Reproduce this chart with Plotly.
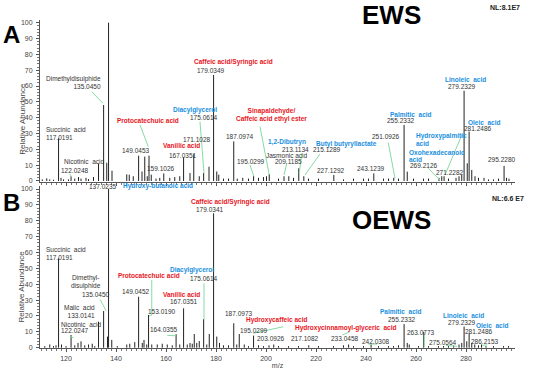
import plotly.graph_objects as go

# ---------------- data ----------------
# Panel A (EWS) peaks: m/z and relative abundance
ews_mz = [110.5, 112.3, 113.5, 115.0, 117.0191, 118.0, 119.0, 121.0, 122.0248, 123.5, 125.0, 126.0,
          128.0, 129.0, 131.0, 133.01, 135.045, 136.3, 137.0235, 138.4, 144.3, 145.3, 146.9,
          149.0453, 150.4, 151.5, 152.5, 153.2, 154.1, 156.0, 157.5, 159.1026, 161.5, 163.5, 165.5,
          167.0351, 169.6, 171.1028, 173.3, 175.0614, 177.2, 179.0349, 180.3, 181.1, 183.0, 185.0,
          187.0974, 188.5, 190.7, 193.0, 195.0299, 197.0, 199.0, 200.2, 201.3, 205.0, 207.2,
          209.1185, 211.0, 213.1134, 215.1289, 217.0, 221.0, 227.1292, 231.0, 235.0, 239.0, 241.0,
          243.1239, 247.0, 249.0, 251.0926, 253.0, 255.2332, 256.5, 259.0, 263.0, 265.0, 269.2126,
          270.3, 271.2282, 273.0, 276.0, 277.2, 278.3, 279.2329, 280.5, 281.2486, 282.3, 283.6,
          285.0, 287.2, 289.0, 291.0, 293.0, 295.228, 296.2, 297.2]
ews_ab = [1, 1.7, 1, 0.8, 27, 2, 1, 1, 3, 1.5, 2.5, 1.5,
          2, 1.2, 2.5, 11, 48, 11.5, 100, 6.5, 4.2, 4, 3,
          16, 6, 15.4, 3, 16, 4, 1.5, 2, 4.8, 2, 2.5, 3,
          15, 5, 17, 3, 5, 9, 67, 6, 4, 1.5, 1.5,
          25, 1.5, 2, 1.5, 3.2, 2, 2.5, 3, 4.4, 1.5, 3,
          3, 2, 8, 3, 1.5, 1.5, 3.8, 1, 1.5, 1.5, 1.5,
          4.8, 1.5, 1.5, 2, 1.5, 35.4, 5.9, 1.5, 1.5, 1.5, 2,
          3, 3, 1.5, 2, 3, 4, 57, 11.2, 31.2, 7, 3,
          2, 2, 1, 1, 1.5, 9.5, 2, 1.5]

# Panel B (OEWS) peaks
oews_mz = [111.5, 113.5, 115.0, 116.0, 117.0191, 118.2, 120.0, 122.0247, 123.5, 124.8, 126.0, 127.5,
           129.0, 130.5, 131.5, 133.0141, 135.045, 136.6, 137.0235, 138.3, 140.5, 144.3, 145.5,
           147.5, 149.0452, 150.5, 151.2, 152.3, 153.019, 154.3, 156.5, 158.5, 160.5, 162.5,
           164.0355, 165.5, 167.0351, 168.5, 169.6, 170.5, 171.3, 172.3, 173.3, 175.0614, 176.3,
           177.3, 179.0341, 180.3, 181.4, 183.0, 185.0, 187.0973, 188.3, 189.3, 191.3, 193.0,
           195.0299, 197.0, 199.0, 201.2, 203.0926, 205.0, 209.0, 213.0, 217.1082, 221.0, 227.0,
           231.0, 233.0458, 235.0, 239.0, 242.0308, 245.0, 249.0, 251.0, 253.0, 255.2332, 256.5,
           257.3, 261.0, 263.0773, 265.0, 269.0, 271.0, 273.0, 275.0564, 277.2, 278.3, 279.2329,
           280.3, 281.2486, 282.3, 283.5, 285.0, 286.2153, 288.0, 291.0, 295.0, 297.0]
oews_ab = [1, 2, 1, 1.5, 56.3, 2, 1, 8, 1.5, 3, 4, 1.5,
           2, 2.5, 1, 16.4, 23.1, 7, 100, 4.9, 1, 2, 2.5,
           3.5, 32.1, 3, 4.9, 2, 20.6, 2, 2, 2.5, 2, 1.5,
           8.5, 2, 24.8, 2, 3, 2.5, 8.6, 3, 4.2, 18, 2,
           8.6, 84.7, 7, 3, 1.5, 1.5, 15.4, 2, 8.6, 2, 1,
           7.6, 1.5, 1, 1.5, 2, 1, 1, 1, 1.5, 1, 1,
           1.5, 2, 1, 1, 2, 1, 1, 1, 1.5, 14.9, 3,
           2, 1, 10, 1, 1, 1, 1, 1.5, 2, 3, 13.3,
           4, 9, 3, 2, 1.5, 2, 1, 1, 1, 1]

x_ticks = [120, 140, 160, 180, 200, 220, 240, 260, 280]
y_ticks = [0, 10, 20, 30, 40, 50, 60, 70, 80, 90, 100]

RED = "#e8141c"
BLUE = "#1a8fe0"
DARK = "#333333"
GREEN = "#86dca2"

# annotations: (panel, text, mz, abundance, xanchor, color, bold)
labels = [
    ("A", "137.0235", 140.8, 103.3, "right", DARK, False),
    ("A", "Hydroxy-butanoic acid", 142.3, 103.3, "left", BLUE, True),
    ("A", "Dimethyldisulphide<br>135.0450", 134.6, 62.1, "right", DARK, False),
    ("A", "Succinic  acid<br>117.0191", 111.0, 30.3, "left", DARK, False),
    ("A", "Nicotinic  acid", 118.4, 12.2, "left", DARK, False),
    ("A", "122.0248", 117.3, 6.9, "left", DARK, False),
    ("A", "Protocatechuic acid", 152.9, 38.1, "center", RED, True),
    ("A", "149.0453", 147.9, 19.1, "center", DARK, False),
    ("A", "159.1026", 157.9, 7.6, "center", DARK, False),
    ("A", "Vanillic acid", 166.0, 22.3, "center", RED, True),
    ("A", "167.0351", 166.6, 16.4, "center", DARK, False),
    ("A", "171.1028", 172.1, 25.9, "center", DARK, False),
    ("A", "Diacylglycerol", 171.5, 44.9, "center", BLUE, True),
    ("A", "175.0614", 174.8, 40.2, "center", DARK, False),
    ("A", "Caffeic acid/Syringic acid", 186.9, 75.0, "center", RED, True),
    ("A", "179.0349", 177.7, 70.1, "center", DARK, False),
    ("A", "187.0974", 189.3, 28.0, "center", DARK, False),
    ("A", "195.0299", 193.7, 12.2, "center", DARK, False),
    ("A", "Sinapaldehyde/<br>Caffeic acid ethyl ester", 202.0, 41.9, "center", RED, True),
    ("A", "1,2-Dibutryn", 208.4, 24.8, "center", BLUE, True),
    ("A", "213.1134", 211.9, 20.0, "center", DARK, False),
    ("A", "Jasmonic acid", 208.5, 16.0, "center", DARK, False),
    ("A", "209.1185", 209.1, 12.6, "center", DARK, False),
    ("A", "Butyl butyryllactate", 232.3, 23.3, "center", BLUE, True),
    ("A", "215.1289", 224.3, 19.6, "center", DARK, False),
    ("A", "227.1292", 225.9, 6.5, "center", DARK, False),
    ("A", "243.1239", 241.7, 7.6, "center", DARK, False),
    ("A", "251.0926", 247.9, 27.8, "center", DARK, False),
    ("A", "Palmitic  acid", 257.9, 42.1, "center", BLUE, True),
    ("A", "255.2332", 253.7, 38.1, "center", DARK, False),
    ("A", "Hydroxypalmitic", 259.3, 28.6, "left", BLUE, True),
    ("A", "acid", 259.3, 23.6, "left", BLUE, True),
    ("A", "Oxohexadecanoic", 256.5, 18.3, "left", BLUE, True),
    ("A", "acid", 256.5, 13.5, "left", BLUE, True),
    ("A", "269.2126", 262.9, 9.5, "center", DARK, False),
    ("A", "271.2282", 273.5, 5.2, "center", DARK, False),
    ("A", "Linoleic  acid", 279.7, 64.2, "center", BLUE, True),
    ("A", "279.2329", 278.0, 60.0, "center", DARK, False),
    ("A", "Oleic  acid", 287.3, 37.1, "center", BLUE, True),
    ("A", "281.2486", 284.5, 33.3, "center", DARK, False),
    ("A", "Hydroxylinoleic acid", 300.9, 17.9, "center", BLUE, True),
    ("A", "295.2280", 294.0, 13.3, "center", DARK, False),

    ("B", "137.0235", 140.9, 101.9, "right", DARK, False),
    ("B", "Hydroxy-butanoic acid", 141.9, 101.9, "left", BLUE, True),
    ("B", "Succinic  acid<br>117.0191", 111.0, 59.5, "left", DARK, False),
    ("B", "Dimethyl-<br>disulphide", 128.0, 41.4, "center", DARK, False),
    ("B", "135.0450", 131.9, 33.8, "center", DARK, False),
    ("B", "Malic  acid<br>133.0141", 132.4, 22.7, "right", DARK, False),
    ("B", "Nicotinic  acid", 117.3, 14.9, "left", DARK, False),
    ("B", "122.0247", 117.3, 10.7, "left", DARK, False),
    ("B", "Protocatechuic acid", 153.2, 45.4, "center", RED, True),
    ("B", "149.0452", 147.9, 35.3, "center", DARK, False),
    ("B", "153.0190", 158.0, 22.7, "center", DARK, False),
    ("B", "164.0355", 158.9, 11.2, "center", DARK, False),
    ("B", "Vanillic acid", 166.0, 33.8, "center", RED, True),
    ("B", "167.0351", 167.1, 29.0, "center", DARK, False),
    ("B", "Diacylglycerol", 170.3, 49.0, "center", BLUE, True),
    ("B", "175.0614", 175.1, 43.7, "center", DARK, False),
    ("B", "Caffeic acid/Syringic acid", 185.6, 91.6, "center", RED, True),
    ("B", "179.0341", 177.5, 86.8, "center", DARK, False),
    ("B", "187.0973", 188.9, 21.8, "center", DARK, False),
    ("B", "Hydroxycaffeic acid", 204.0, 17.3, "center", RED, True),
    ("B", "195.0299", 194.8, 10.7, "center", DARK, False),
    ("B", "203.0926", 201.7, 5.5, "center", DARK, False),
    ("B", "217.1082", 215.2, 5.5, "center", DARK, False),
    ("B", "Hydroxycinnamoyl-glyceric  acid", 231.9, 12.2, "center", RED, True),
    ("B", "233.0458", 231.2, 5.5, "center", DARK, False),
    ("B", "242.0308", 243.6, 4.2, "center", DARK, False),
    ("B", "Palmitic  acid", 253.9, 22.7, "center", BLUE, True),
    ("B", "255.2332", 254.1, 17.9, "center", DARK, False),
    ("B", "263.0773", 261.9, 9.5, "center", DARK, False),
    ("B", "275.0564", 270.5, 3.2, "center", DARK, False),
    ("B", "Linoleic  acid", 278.9, 20.6, "center", BLUE, True),
    ("B", "279.2329", 278.0, 15.8, "center", DARK, False),
    ("B", "Oleic  acid", 290.7, 14.3, "center", BLUE, True),
    ("B", "281.2486", 285.1, 10.5, "center", DARK, False),
    ("B", "286.2153", 287.3, 3.8, "center", DARK, False),
]

# leader lines: (panel, mz0, ab0, mz1, ab1)
leaders = [
    ("A", 130.3, 56.4, 134.7, 49.2),
    ("A", 121.5, 4.5, 122.3, 2.5),
    ("A", 149.6, 35.4, 152.9, 21.7),
    ("A", 173.6, 37.5, 175.2, 4.9),
    ("A", 193.6, 10.1, 195.2, 2.7),
    ("A", 197.6, 34.3, 201.3, 3.8),
    ("A", 214.3, 17.5, 213.3, 4.9),
    ("A", 208.3, 11.2, 207.2, 3.8),
    ("A", 221.6, 17.1, 215.6, 3.8),
    ("A", 248.9, 24.2, 251.6, 1.7),
    ("A", 278.3, 29.0, 271.6, 3.8),
    ("A", 264.9, 8.0, 269.6, 0.6),
    ("B", 133.6, 30.5, 136.0, 23.3),
    ("B", 121.5, 7.0, 123.0, 6.3),
    ("B", 154.3, 42.7, 154.3, 20.6),
    ("B", 154.3, 20.6, 153.2, 20.0),
    ("B", 160.5, 7.8, 164.0, 7.5),
    ("B", 175.2, 40.6, 175.2, 17.9),
    ("B", 194.9, 9.1, 206.9, 13.2),
    ("B", 230.5, 8.0, 233.5, 10.0),
    ("B", 241.0, 2.3, 244.5, 2.3),
    ("B", 263.3, 8.6, 263.3, 0.6),
    ("B", 272.0, 1.5, 276.5, 0.8),
    ("B", 286.5, 1.5, 288.5, 1.8),
]

# ---------------- figure ----------------
def stems(mz, ab):
    xs, ys = [], []
    for m, a in zip(mz, ab):
        xs += [m, m, None]
        ys += [0, a, None]
    return xs, ys

fig = go.Figure()
xa, ya = stems(ews_mz, ews_ab)
xb, yb = stems(oews_mz, oews_ab)
fig.add_trace(go.Scatter(x=xa, y=ya, mode="lines", line=dict(color="#222222", width=1),
                         xaxis="x", yaxis="y", hoverinfo="skip", showlegend=False))
fig.add_trace(go.Scatter(x=xb, y=yb, mode="lines", line=dict(color="#222222", width=1),
                         xaxis="x2", yaxis="y2", hoverinfo="skip", showlegend=False))

FONT = "Arial, Liberation Sans, sans-serif"
XR = [109.6, 299.6]
common_x = dict(range=XR, showgrid=False, zeroline=False, showline=True, linecolor="#555555",
                linewidth=1, ticks="outside", ticklen=3, tickcolor="#555555", tickvals=x_ticks,
                automargin=False,
                minor=dict(dtick=2, tick0=0, ticklen=2, ticks="outside", tickcolor="#777777"),
                tickfont=dict(size=7, color="#444444", family=FONT))
common_y = dict(showgrid=False, zeroline=False, showline=True, linecolor="#555555", linewidth=1,
                ticks="outside", ticklen=3, tickcolor="#555555", tickvals=y_ticks,
                automargin=False, ticklabelstandoff=2,
                minor=dict(dtick=2, tick0=0, ticklen=2, ticks="outside", tickcolor="#777777"),
                tickfont=dict(size=7, color="#444444", family=FONT))

fig.update_layout(
    width=550, height=369, paper_bgcolor="white", plot_bgcolor="white",
    margin=dict(l=40, r=35, t=0, b=0),
    font=dict(family=FONT),
    xaxis=dict(common_x, anchor="y", domain=[0, 1], showticklabels=False),
    yaxis=dict(common_y, anchor="x", domain=[0.5068, 0.9458], range=[-0.63, 101.7]),
    xaxis2=dict(common_x, anchor="y2", domain=[0, 1],
                title=dict(text="m/z", font=dict(size=7, color="#444444", family=FONT), standoff=2)),
    yaxis2=dict(common_y, anchor="x2", domain=[0.0556, 0.4959], range=[-0.5, 101.9]),
)

anns = []
for panel, text, m, a, xa_, col, bold in labels:
    t = f"<b>{text}</b>" if bold else text
    anns.append(dict(text=t, x=m, y=a, xref="x" if panel == "A" else "x2",
                     yref="y" if panel == "A" else "y2", xanchor=xa_, yanchor="middle",
                     align=xa_ if xa_ != "center" else "center", showarrow=False,
                     font=dict(size=6.5, color=col, family=FONT)))
# axis titles, panel letters and titles (paper x is relative to the plotting area)
anns += [
    dict(text="Relative Abundance", x=-0.0385, y=0.6775, xref="paper", yref="paper", textangle=-90,
         xanchor="center", yanchor="middle", showarrow=False,
         font=dict(size=8, color="#444444", family=FONT)),
    dict(text="Relative Abundance", x=-0.0385, y=0.223, xref="paper", yref="paper", textangle=-90,
         xanchor="center", yanchor="middle", showarrow=False,
         font=dict(size=8, color="#444444", family=FONT)),
    dict(text="<b>A</b>", x=-0.083, y=0.907, xref="paper", yref="paper", xanchor="left",
         yanchor="middle", showarrow=False, font=dict(size=24, color="black", family=FONT)),
    dict(text="<b>B</b>", x=-0.083, y=0.452, xref="paper", yref="paper", xanchor="left",
         yanchor="middle", showarrow=False, font=dict(size=24, color="black", family=FONT)),
    dict(text="<b>EWS</b>", x=0.740, y=0.959, xref="paper", yref="paper", xanchor="center",
         yanchor="middle", showarrow=False, font=dict(size=26, color="black", family=FONT)),
    dict(text="<b>OEWS</b>", x=0.741, y=0.404, xref="paper", yref="paper", xanchor="center",
         yanchor="middle", showarrow=False, font=dict(size=26, color="black", family=FONT)),
    dict(text="<b>NL:8.1E7</b>", x=0.979, y=0.98, xref="paper", yref="paper", xanchor="center",
         yanchor="middle", showarrow=False, font=dict(size=7, color="#222222", family=FONT)),
    dict(text="<b>NL:6.6 E7</b>", x=0.985, y=0.463, xref="paper", yref="paper", xanchor="center",
         yanchor="middle", showarrow=False, font=dict(size=7, color="#222222", family=FONT)),
]
fig.update_layout(annotations=anns)

shapes = []
for panel, m0, a0, m1, a1 in leaders:
    shapes.append(dict(type="line", x0=m0, y0=a0, x1=m1, y1=a1,
                       xref="x" if panel == "A" else "x2", yref="y" if panel == "A" else "y2",
                       line=dict(color=GREEN, width=1)))
fig.update_layout(shapes=shapes)

fig.write_html("out.html", config={"displayModeBar": False},
               post_script="document.body.style.margin='0px';document.body.style.overflow='hidden';")
